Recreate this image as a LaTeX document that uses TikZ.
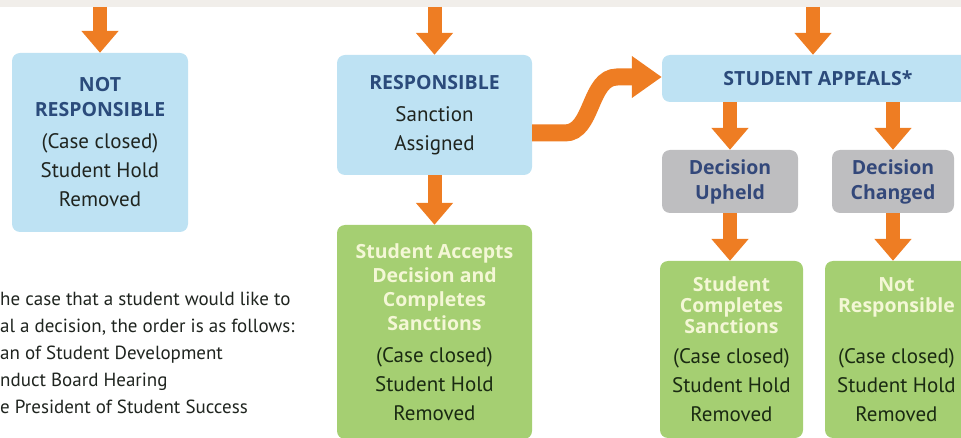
\documentclass[tikz,border=0pt]{standalone}
\usepackage{fontspec}
\setmainfont{PT Sans}
\newfontfamily\headfont{Open Sans}
\usetikzlibrary{arrows.meta}
\definecolor{boxblue}{HTML}{BEE2F3}
\definecolor{boxgreen}{HTML}{A5CF72}
\definecolor{boxgray}{HTML}{BEBEC0}
\definecolor{arrorange}{HTML}{EE7D23}
\definecolor{headblue}{HTML}{2B4B7B}
\definecolor{grayhead}{HTML}{33487A}
\definecolor{bodydark}{HTML}{1F241F}
\definecolor{greenbody}{HTML}{1A2A12}
\definecolor{greenhead}{HTML}{F4F7D6}
\definecolor{stripgray}{HTML}{F1EEEA}
\newcommand\hb[1]{{\headfont\bfseries\fontsize{19.5}{24}\selectfont\color{headblue}#1}}
\newcommand\hg[1]{{\headfont\bfseries\fontsize{19.5}{24}\selectfont\color{greenhead}#1}}
\newcommand\hd[1]{{\headfont\bfseries\fontsize{19.5}{24}\selectfont\color{grayhead}#1}}
\begin{document}
\begin{tikzpicture}[x=1pt,y=-1pt,
  box/.style={rounded corners=8pt, inner sep=0pt, align=center, font=\fontsize{21}{29}\selectfont},
  bluebox/.style={box, fill=boxblue, text=bodydark},
  greenbox/.style={box, fill=boxgreen, text=greenbody},
  graybox/.style={box, fill=boxgray},
  arr/.style={draw=arrorange, line width=14pt, -{Triangle[width=36pt,length=22pt]}},
  sarr/.style={draw=arrorange, line width=17pt, -{Triangle[width=40pt,length=30pt]}}
]
\useasboundingbox (0,0) rectangle (961,438);
\fill[stripgray] (0,0) rectangle (961,7);

% top row
\node[bluebox, minimum width=176pt, minimum height=179pt] (nr) at (100,142.5)
  {\hb{NOT}\\[-4pt]\hb{RESPONSIBLE}\\[3pt](Case closed)\\Student Hold\\Removed};
\node[bluebox, minimum width=195pt, minimum height=120pt] (resp) at (434.5,115)
  {\hb{RESPONSIBLE}\\[3pt]Sanction\\Assigned};
\node[bluebox, minimum width=312pt, minimum height=47pt] (appeals) at (818,78.5)
  {\hb{STUDENT APPEALS*}};

% gray decisions
\node[graybox, minimum width=136pt, minimum height=63pt] (upheld) at (730,181.5)
  {\hd{Decision}\\[-4pt]\hd{Upheld}};
\node[graybox, minimum width=122pt, minimum height=63pt] (changed) at (893,181.5)
  {\hd{Decision}\\[-4pt]\hd{Changed}};

% green outcomes
\node[greenbox, minimum width=195pt, minimum height=214pt] (accept) at (434.5,332)
  {\hg{Student Accepts}\\[-5pt]\hg{Decision and}\\[-5pt]\hg{Completes}\\[-5pt]\hg{Sanctions}\\[3pt](Case closed)\\Student Hold\\Removed};
\node[greenbox, minimum width=143pt, minimum height=177pt] (completes) at (731.5,349.5)
  {\hg{Student}\\[-8pt]\hg{Completes}\\[-8pt]\hg{Sanctions}\\[1pt](Case closed)\\Student Hold\\Removed};
\node[greenbox, minimum width=143pt, minimum height=177pt] (nr2) at (896.5,349.5)
  {\hg{Not}\\[-8pt]\hg{Responsible}\\[22pt](Case closed)\\Student Hold\\Removed};

% note
\node[anchor=north west, inner sep=0pt, align=left, font=\fontsize{19}{27}\selectfont, text=bodydark] (note) at (0,292)
  {he case that a student would like to\\al a decision, the order is as follows:\\an of Student Development\\nduct Board Hearing\\e President of Student Success};

% connectors
\coordinate (t1) at (100,7);
\coordinate (t2) at (434.5,7);
\coordinate (t3) at (813,7);
\draw[arr] (t1) -- (nr.north);
\draw[arr] (t2) -- (resp.north);
\draw[arr] (t3) -- (t3 |- appeals.north);
\draw[arr] (resp.south) -- (accept.north);
\draw[arr] (appeals.south -| upheld.north) -- (upheld.north);
\draw[arr] (appeals.south -| changed.north) -- (changed.north);
\draw[arr] (upheld.south) -- (upheld.south |- completes.north);
\draw[arr] (changed.south) -- (changed.south |- nr2.north);

\coordinate (s0) at ([yshift=-18pt]resp.east);
\coordinate (s1) at (565,133);
\coordinate (s2) at (617,77);
\draw[sarr] (s0) -- (s1) .. controls (593,133) and (589,77) .. (s2) -- (s2 -| appeals.west);
\end{tikzpicture}
\end{document}
